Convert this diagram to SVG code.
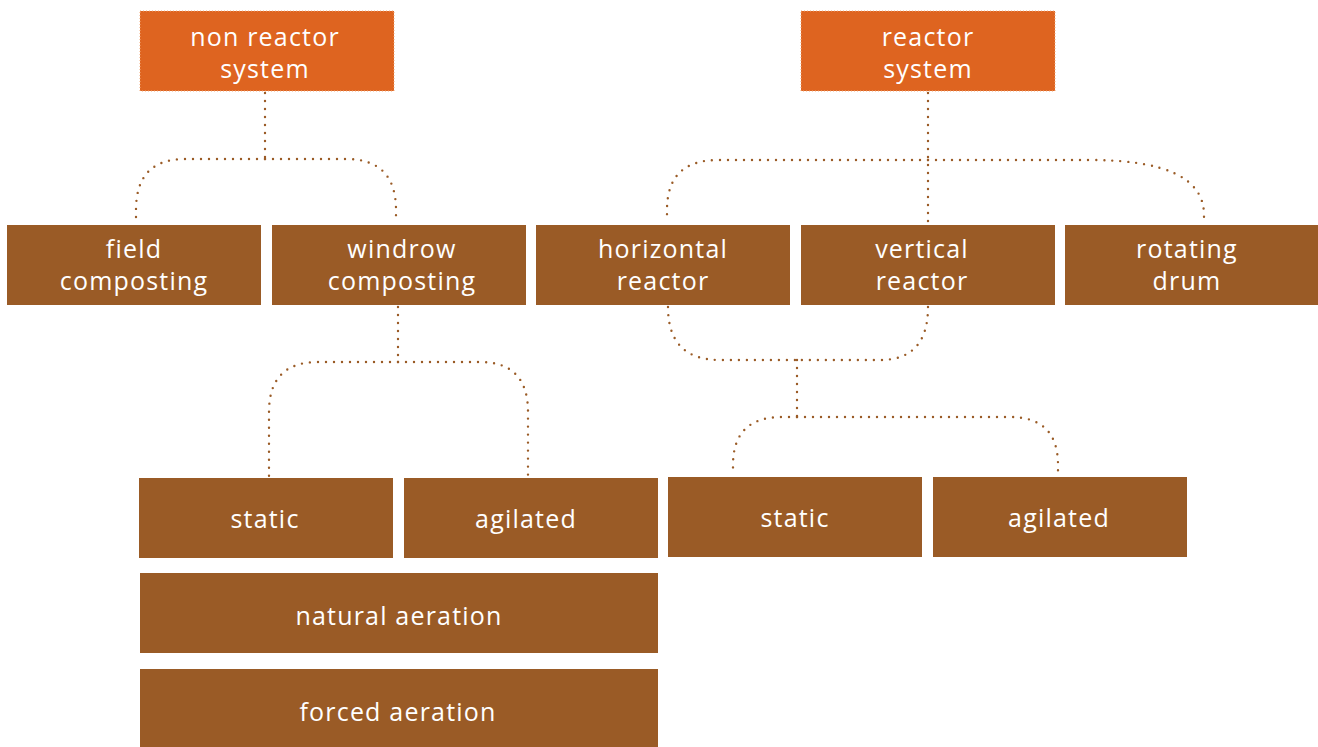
<svg xmlns="http://www.w3.org/2000/svg" width="1318" height="747" viewBox="0 0 1318 747">
<style>
.top{fill:#DE6420;stroke:#F3A877;stroke-width:1;stroke-dasharray:1 2}
.box{fill:#9A5B26}
.t{fill:#FFFFFF;font-family:"Open Sans","Noto Sans",sans-serif;font-size:25px;letter-spacing:1.2px;text-anchor:middle}
.c{fill:none;stroke:#9A5B26;stroke-width:2.4;stroke-linecap:round;stroke-dasharray:0 8}
</style>
<rect width="1318" height="747" fill="#FFFFFF"/>
<g id="connectors">
<path class="c" d="M265,93 V159"/>
<path class="c" d="M265,159 H185 Q136,159 136,210 V222"/>
<path class="c" d="M265,159 H346 Q396,159 396,210 V222"/>
<path class="c" d="M928,93 V222"/>
<path class="c" d="M928,160 H718 Q667,160 667,210 V222"/>
<path class="c" d="M928,160 H1090 Q1204,160 1204,215 V222"/>
<path class="c" d="M668,307 Q668,360 720,360 H797"/>
<path class="c" d="M928,307 Q928,360 880,360 H797"/>
<path class="c" d="M797,360 V417"/>
<path class="c" d="M797,417 H782 Q733,417 733,465 V472"/>
<path class="c" d="M797,417 H1010 Q1058,417 1058,465 V472"/>
<path class="c" d="M398,307 V362"/>
<path class="c" d="M398,362 H318 Q269,362 269,412 V476"/>
<path class="c" d="M398,362 H480 Q528,362 528,412 V476"/>
</g>
<g id="non-reactor-system"><rect class="top" x="140" y="11" width="254" height="80"/><text class="t" x="265" y="46">non reactor</text><text class="t" x="265" y="78">system</text></g>
<g id="reactor-system"><rect class="top" x="801" y="11" width="254" height="80"/><text class="t" x="928" y="46">reactor</text><text class="t" x="928" y="78">system</text></g>
<g id="field-composting"><rect class="box" x="7" y="225" width="254" height="80"/><text class="t" x="134" y="258">field</text><text class="t" x="134" y="290">composting</text></g>
<g id="windrow-composting"><rect class="box" x="272" y="225" width="254" height="80"/><text class="t" x="402" y="258">windrow</text><text class="t" x="402" y="290">composting</text></g>
<g id="horizontal-reactor"><rect class="box" x="536" y="225" width="254" height="80"/><text class="t" x="663" y="258">horizontal</text><text class="t" x="663" y="290">reactor</text></g>
<g id="vertical-reactor"><rect class="box" x="801" y="225" width="254" height="80"/><text class="t" x="922" y="258">vertical</text><text class="t" x="922" y="290">reactor</text></g>
<g id="rotating-drum"><rect class="box" x="1065" y="225" width="253" height="80"/><text class="t" x="1187" y="258">rotating</text><text class="t" x="1187" y="290">drum</text></g>
<g id="static-1"><rect class="box" x="139" y="478" width="254" height="80"/><text class="t" x="265" y="528">static</text></g>
<g id="agilated-1"><rect class="box" x="404" y="478" width="254" height="80"/><text class="t" x="526" y="528">agilated</text></g>
<g id="static-2"><rect class="box" x="668" y="477" width="254" height="80"/><text class="t" x="795" y="527">static</text></g>
<g id="agilated-2"><rect class="box" x="933" y="477" width="254" height="80"/><text class="t" x="1059" y="527">agilated</text></g>
<g id="natural-aeration"><rect class="box" x="140" y="573" width="518" height="80"/><text class="t" x="399" y="625">natural aeration</text></g>
<g id="forced-aeration"><rect class="box" x="140" y="669" width="518" height="78"/><text class="t" x="398" y="721">forced aeration</text></g>
</svg>
